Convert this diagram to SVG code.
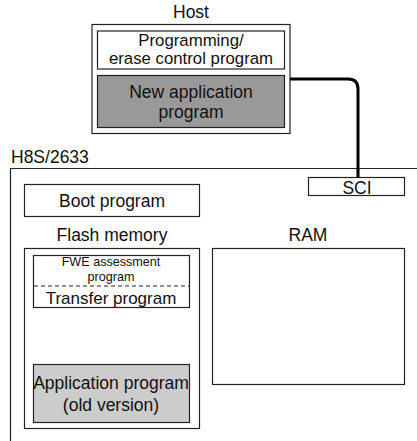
<svg xmlns="http://www.w3.org/2000/svg" width="417" height="441" viewBox="0 0 417 441">
<style>
.b{fill:#fff;stroke:#222;stroke-width:1.2}
.t{font-family:"Liberation Sans",Arial,sans-serif;font-size:17.5px;fill:#111;text-anchor:middle}
.s{font-size:12.6px}
.m{font-size:16.8px}
</style>
<rect width="417" height="441" fill="#fff"/>
<g id="host">
<text class="t" x="191" y="18">Host</text>
<rect class="b" x="92" y="24.5" width="198" height="109"/>
</g>
<g id="erase-control">
<rect class="b" x="97.5" y="31" width="187" height="38"/>
<text class="t m" x="191" y="45.5">Programming/</text>
<text class="t m" x="191" y="64.4">erase control program</text>
</g>
<g id="new-app">
<rect class="b" x="97.5" y="75.5" width="187" height="52" style="fill:#999"/>
<text class="t" x="191" y="97.5">New application</text>
<text class="t" x="191" y="118">program</text>
</g>
<g id="chip">
<text class="t" x="11" y="163" style="text-anchor:start">H8S/2633</text>
<path d="M10.5,441 V168.5 H417" fill="none" stroke="#222" stroke-width="1.2"/>
</g>
<g id="sci">
<rect class="b" x="308.5" y="177.5" width="96" height="18"/>
<text class="t" x="357" y="194">SCI</text>
</g>
<g id="boot">
<rect class="b" x="24.5" y="184.5" width="175" height="32"/>
<text class="t" x="112" y="206.5">Boot program</text>
</g>
<g id="flash">
<text class="t" x="112" y="240.5">Flash memory</text>
<rect class="b" x="24.5" y="248.5" width="175" height="180"/>
</g>
<g id="fwe-transfer">
<rect class="b" x="33.5" y="255.5" width="156" height="52"/>
<text class="t s" x="111" y="266.3">FWE assessment</text>
<text class="t s" x="111" y="280.5">program</text>
<line x1="34" y1="286" x2="189" y2="286" stroke="#222" stroke-width="1" stroke-dasharray="4,3"/>
<text class="t" x="111" y="304" style="font-size:17px">Transfer program</text>
</g>
<g id="app-old">
<rect class="b" x="33.5" y="364.5" width="156" height="58" style="fill:#ccc"/>
<text class="t" x="111" y="388.5">Application program</text>
<text class="t" x="111" y="410.5">(old version)</text>
</g>
<g id="ram">
<text class="t" x="308" y="240.5">RAM</text>
<rect class="b" x="212.5" y="248.5" width="192" height="136"/>
</g>
<g id="connectors">
<path d="M290,79 H348 Q358,79 358,89 V177.5" fill="none" stroke="#000" stroke-width="3"/>
</g>
</svg>
